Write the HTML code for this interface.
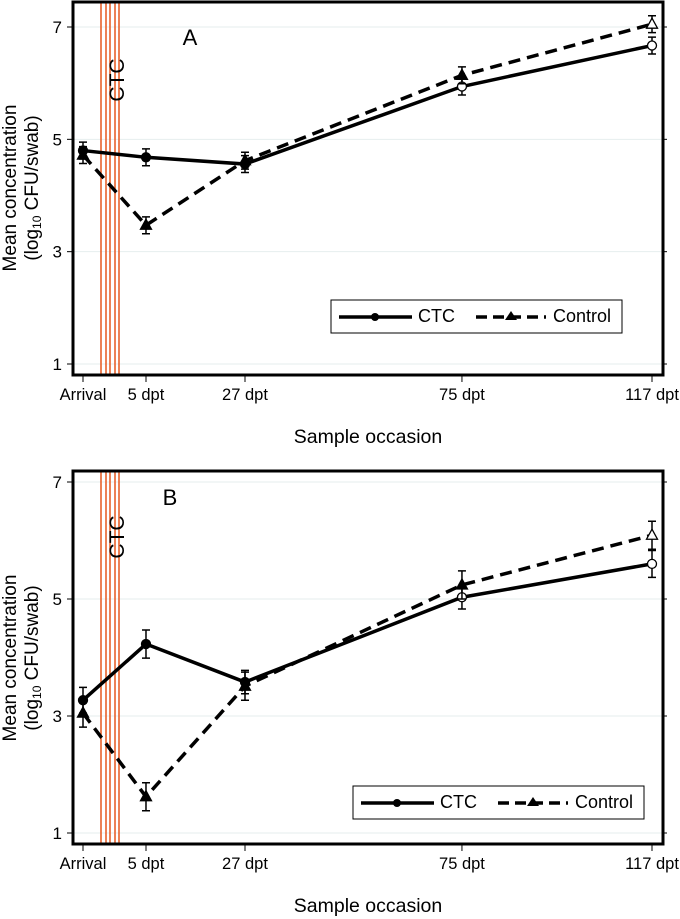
<!DOCTYPE html>
<html><head><meta charset="utf-8"><style>
body{margin:0;background:#fff}
svg{display:block;font-family:"Liberation Sans",Arial,sans-serif}
</style></head><body>
<svg id="c" width="680" height="919" viewBox="0 0 680 919"></svg>
<script>
const categories=["Arrival","5 dpt","27 dpt","75 dpt","117 dpt"];
const catPos=[0,0.1107,0.2847,0.666,1];
const yTicks=[1,3,5,7];
const ctcA=[4.80,4.68,4.56,5.94,6.67];
const ctcAerr=[0.15,0.15,0.15,0.15,0.15];
const ctlA=[4.72,3.47,4.62,6.14,7.05];
const ctlAerr=[0.15,0.15,0.15,0.15,0.15];
const ctcB=[3.27,4.23,3.58,5.03,5.60];
const ctcBerr=[0.22,0.24,0.20,0.20,0.23];
const ctlB=[3.05,1.62,3.51,5.24,6.09];
const ctlBerr=[0.24,0.24,0.24,0.24,0.24];
const NS="http://www.w3.org/2000/svg";
const svg=document.getElementById('c');
function mk(tag,attrs,parent,txt){const e=document.createElementNS(NS,tag);for(const k in attrs)e.setAttribute(k,attrs[k]);if(txt!==undefined)e.textContent=txt;(parent||svg).appendChild(e);return e;}
function panel(p){
  const g=mk('g',{});
  
  
  const X=i=>83+catPos[i]*(652-83);
  const Y=v=>p.y7+(7-v)*(p.y1-p.y7)/6;
  yTicks.forEach(t=>{const l=mk('line',{x1:74,x2:662,y1:Y(t),y2:Y(t),stroke:'#e6eeee','stroke-width':1},g);
    const tk=mk('line',{x1:67,x2:73,y1:Y(t),y2:Y(t),stroke:'#000','stroke-width':1},g);
    const tr=mk('line',{x1:663,x2:667,y1:Y(t),y2:Y(t),stroke:'#000','stroke-width':1},g);
    const tl=mk('text',{x:62,y:Y(t)+6,'text-anchor':'end','font-size':17},g,String(t));});
  [101,106,110,115,119].forEach(x=>{const l=mk('line',{x1:x,x2:x,y1:p.top,y2:p.bot,stroke:'#e8622c','stroke-width':1.6},g);});
  const ct=mk('text',{x:0,y:0,'font-size':21,transform:`translate(124,${p.ctcY}) rotate(-90)`,'text-anchor':'middle'},g,'CTC');
  const pl=mk('text',{x:p.lx,y:p.ly,'font-size':22,'text-anchor':'middle'},g,p.label);
  const fr=mk('rect',{x:73,y:p.top,width:590,height:p.bot-p.top,fill:'none',stroke:'#000','stroke-width':3},g);
  categories.forEach((c,i)=>{const tk=mk('line',{x1:X(i),x2:X(i),y1:p.bot,y2:p.bot+7,stroke:'#000','stroke-width':1},g);
    const tl=mk('text',{x:X(i),y:p.bot+25,'text-anchor':'middle','font-size':16.5},g,c);});
  function series(vals,errs,dash,name,openFrom,tri){
    const pts=vals.map((v,i)=>X(i)+','+Y(v)).join(' ');
    const ln=mk('polyline',{points:pts,fill:'none',stroke:'#000','stroke-width':3.5,'stroke-dasharray':dash},g);
    vals.forEach((v,i)=>{const x=X(i),y1=Y(v+errs[i]),y2=Y(v-errs[i]);
      const e=mk('path',{d:`M${x},${y1}V${y2}M${x-4},${y1}H${x+4}M${x-4},${y2}H${x+4}`,stroke:'#000','stroke-width':1.5,fill:'none'},g);
      const open=i>=openFrom;let m;
      if(tri)m=mk('path',{d:`M${x},${Y(v)-6}L${x+5.5},${Y(v)+4}L${x-5.5},${Y(v)+4}Z`,fill:open?'#fff':'#000',stroke:'#000','stroke-width':1.3},g);
      else m=mk('circle',{cx:x,cy:Y(v),r:4.5,fill:open?'#fff':'#000',stroke:'#000','stroke-width':1.3},g);
      });
  }
  series(p.ctc,p.ctcErr,'none','ctc',3,false);
  series(p.ctl,p.ctlErr,'12 7','control',4,true);
  const lg=mk('g',{},g);
  mk('rect',{x:p.legX,y:p.legY,width:291,height:33,fill:'#fff',stroke:'#000','stroke-width':1},lg);
  const cy=p.legY+17;
  const e1=mk('g',{},lg);
  mk('line',{x1:p.legX+8,x2:p.legX+81,y1:cy,y2:cy,stroke:'#000','stroke-width':3.5},e1);
  mk('circle',{cx:p.legX+44,cy:cy,r:4,fill:'#000'},e1);
  mk('text',{x:p.legX+87,y:cy+5,'font-size':18},e1,'CTC');
  const e2=mk('g',{},lg);
  mk('line',{x1:p.legX+145,x2:p.legX+215,y1:cy,y2:cy,stroke:'#000','stroke-width':3.5,'stroke-dasharray':'11 6'},e2);
  mk('path',{d:`M${p.legX+180},${cy-6}l6,9h-12z`,fill:'#000'},e2);
  mk('text',{x:p.legX+222,y:cy+5,'font-size':18},e2,'Control');
  const yt=mk('text',{transform:`translate(16,${p.ytY}) rotate(-90)`,'text-anchor':'middle','font-size':19},g,'Mean concentration');
  const yt2=mk('text',{transform:`translate(38,${p.ytY}) rotate(-90)`,'text-anchor':'middle','font-size':19},g);
  mk('tspan',{},yt2,'(log');mk('tspan',{'font-size':12,dy:3},yt2,'10');mk('tspan',{dy:-3},yt2,' CFU/swab)');
  const xt=mk('text',{x:368,y:p.xtY,'text-anchor':'middle','font-size':19.5},g,'Sample occasion');
}
panel({label:'A',top:2,bot:375,y7:27,y1:364,ctcY:80,lx:190,ly:45,legX:331,legY:300,ytY:188,xtY:443,ctc:ctcA,ctcErr:ctcAerr,ctl:ctlA,ctlErr:ctlAerr});
panel({label:'B',top:471,bot:844,y7:482,y1:833,ctcY:537,lx:170,ly:505,legX:353,legY:786,ytY:658,xtY:912,ctc:ctcB,ctcErr:ctcBerr,ctl:ctlB,ctlErr:ctlBerr});
</script>
</body></html>
